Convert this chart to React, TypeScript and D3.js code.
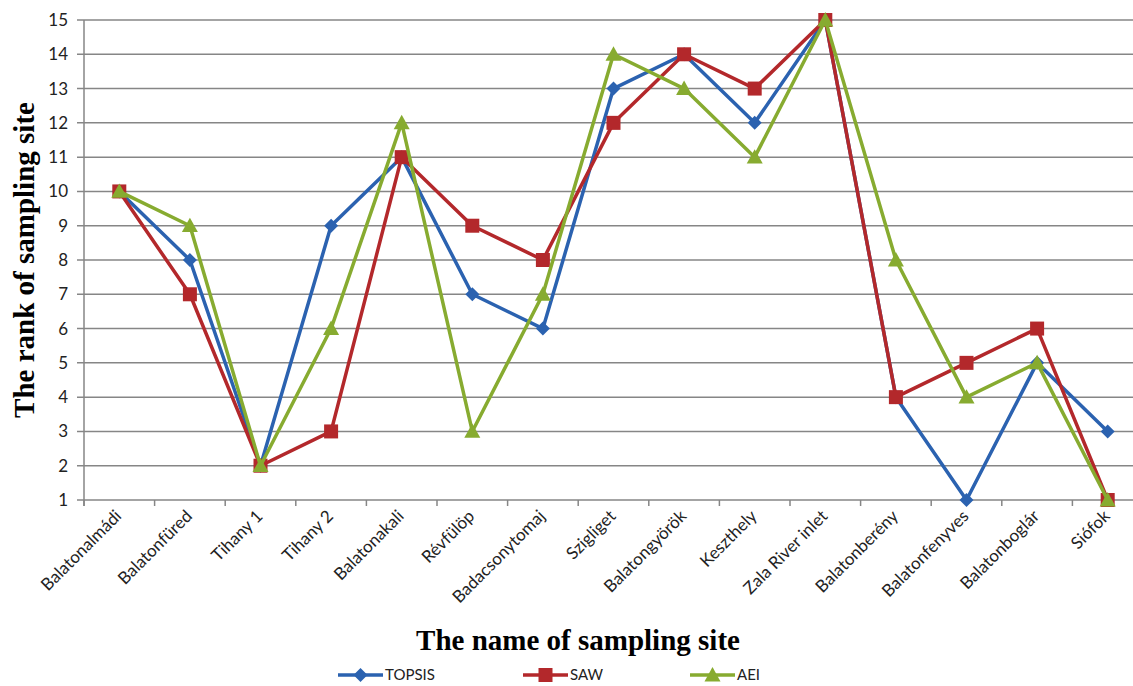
import React from "react";
import * as d3 from "d3";

const sites = [
  "Balatonalmádi", "Balatonfüred", "Tihany 1", "Tihany 2", "Balatonakali",
  "Révfülöp", "Badacsonytomaj", "Szigliget", "Balatongyörök", "Keszthely",
  "Zala River inlet", "Balatonberény", "Balatonfenyves", "Balatonboglár", "Siófok",
];
const topsis = [10, 8, 2, 9, 11, 7, 6, 13, 14, 12, 15, 4, 1, 5, 3];
const saw = [10, 7, 2, 3, 11, 9, 8, 12, 14, 13, 15, 4, 5, 6, 1];
const aei = [10, 9, 2, 6, 12, 3, 7, 14, 13, 11, 15, 8, 4, 5, 1];
const yTicks = [1, 2, 3, 4, 5, 6, 7, 8, 9, 10, 11, 12, 13, 14, 15];

const W = 1133;
const H = 686;
const left = 84;
const right = 1143;
const top = 20;
const bottom = 500;
const legendY = 675;

const series = [
  { name: "TOPSIS", values: topsis, color: "#2b62b0", marker: "diamond" },
  { name: "SAW", values: saw, color: "#b3282b", marker: "square" },
  { name: "AEI", values: aei, color: "#87ab30", marker: "triangle" },
];

function Marker({ kind, x, y, color }: { kind: string; x: number; y: number; color: string }) {
  if (kind === "diamond") {
    const s = 7;
    return <path d={`M${x},${y - s}L${x + s},${y}L${x},${y + s}L${x - s},${y}Z`} fill={color} />;
  }
  if (kind === "square") {
    const s = 7;
    return <rect x={x - s} y={y - s} width={2 * s} height={2 * s} fill={color} />;
  }
  const s = 8;
  return <path d={`M${x},${y - s}L${x + s},${y + s * 0.8}L${x - s},${y + s * 0.8}Z`} fill={color} />;
}

export default function App() {
  const x = d3.scaleBand<string>().domain(sites).range([left, right]);
  const y = d3.scaleLinear().domain([1, 15]).range([bottom, top]);
  const cx = (s: string) => (x(s) ?? 0) + x.bandwidth() / 2;
  const line = d3
    .line<number>()
    .x((_, i) => cx(sites[i]))
    .y((d) => y(d));

  const tickFont = "Lato, 'Open Sans', sans-serif";
  const titleFont = "'Liberation Serif', 'Times New Roman', serif";
  const legendItems = [
    { s: series[0], x0: 338 },
    { s: series[1], x0: 523 },
    { s: series[2], x0: 690 },
  ];

  return (
    <svg width={W} height={H} style={{ position: "absolute", left: 0, top: 0, background: "#fff" }}>
      {/* horizontal gridlines */}
      {yTicks.map((t) => (
        <line key={t} x1={left - 7} x2={right} y1={y(t)} y2={y(t)} stroke="#868686" strokeWidth={1.5} />
      ))}
      {/* y axis */}
      <line x1={left} x2={left} y1={top} y2={bottom + 6} stroke="#868686" strokeWidth={1.5} />
      {yTicks.map((t) => (
        <text key={t} x={left - 16} y={y(t)} dy="0.35em" textAnchor="end" fontFamily={tickFont} fontSize={17} fill="#222">
          {t}
        </text>
      ))}
      {/* x ticks */}
      {d3.range(sites.length + 1).map((i) => {
        const xx = left + i * x.step();
        return <line key={i} x1={xx} x2={xx} y1={bottom} y2={bottom + 6} stroke="#868686" strokeWidth={1.5} />;
      })}
      {sites.map((s) => (
        <text
          key={s}
          transform={`translate(${cx(s) - 1},${bottom + 13}) rotate(-45)`}
          textAnchor="end"
          dy="0.35em"
          fontFamily={tickFont}
          fontSize={17}
          fill="#222"
        >
          {s}
        </text>
      ))}
      {/* series */}
      {series.map((s) => (
        <g key={s.name}>
          <path d={line(s.values) ?? ""} fill="none" stroke={s.color} strokeWidth={3.5} strokeLinejoin="round" />
          {s.values.map((v, i) => (
            <Marker key={i} kind={s.marker} x={cx(sites[i])} y={y(v)} color={s.color} />
          ))}
        </g>
      ))}
      {/* axis titles */}
      <text
        transform={`translate(34,${(top + bottom) / 2}) rotate(-90)`}
        textAnchor="middle"
        fontFamily={titleFont}
        fontWeight="bold"
        fontSize={29}
        fill="#000"
      >
        The rank of sampling site
      </text>
      <text x={578} y={650} textAnchor="middle" fontFamily={titleFont} fontWeight="bold" fontSize={29} fill="#000">
        The name of sampling site
      </text>
      {/* legend */}
      {legendItems.map(({ s, x0 }) => (
        <g key={s.name}>
          <line x1={x0} x2={x0 + 45} y1={legendY} y2={legendY} stroke={s.color} strokeWidth={3.5} />
          <Marker kind={s.marker} x={x0 + 22.5} y={legendY} color={s.color} />
          <text x={x0 + 47} y={legendY} dy="0.35em" fontFamily={tickFont} fontSize={15} fill="#222">
            {s.name}
          </text>
        </g>
      ))}
    </svg>
  );
}
